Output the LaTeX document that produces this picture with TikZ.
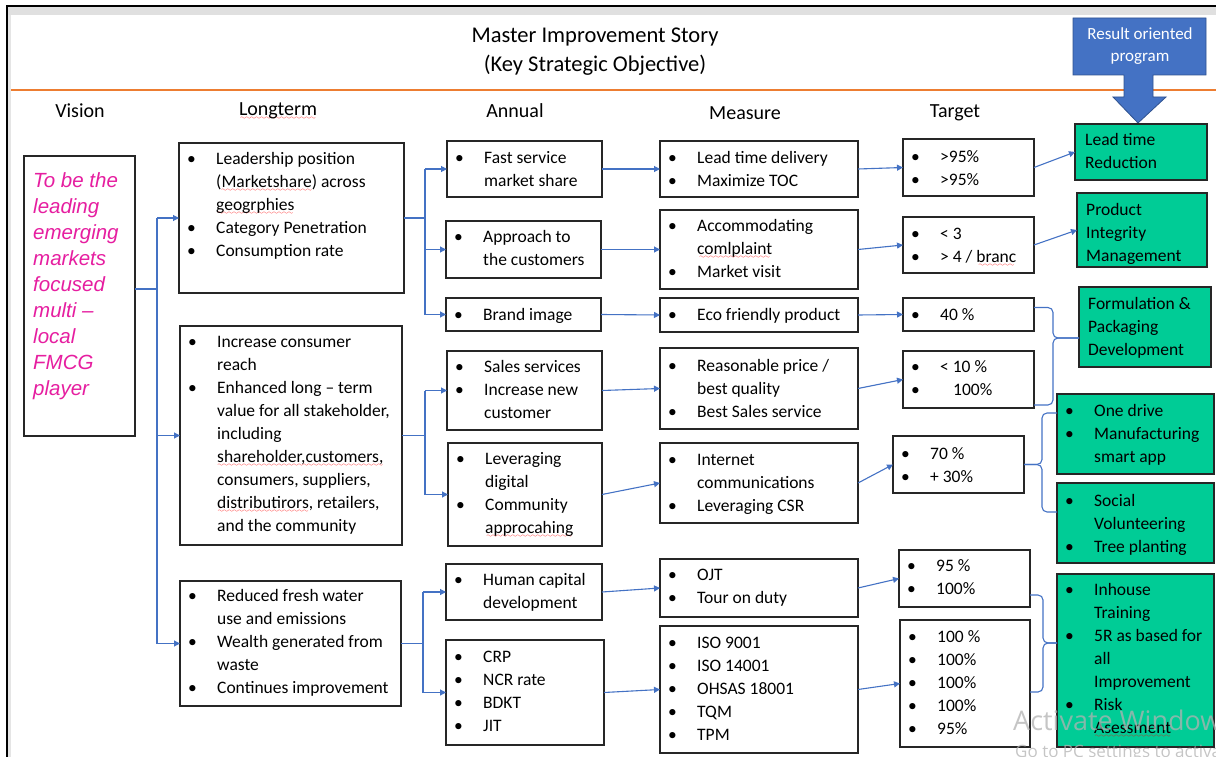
\documentclass[tikz,border=0pt]{standalone}
\usepackage{fontspec}
\setmainfont{Carlito}
\newfontfamily\visionfont{Liberation Sans}
\newfontfamily\wmfont{Open Sans}
\usetikzlibrary{arrows.meta,calc}
\definecolor{conblue}{RGB}{68,114,196}
\definecolor{darkblue}{RGB}{47,82,143}
\definecolor{gfill}{RGB}{0,204,150}
\definecolor{vmag}{RGB}{230,30,160}
\definecolor{orng}{RGB}{237,125,49}
\font\mywave=lasy6
\newsavebox\rwbox
\newcommand\rw[1]{\sbox\rwbox{#1}\makebox[0pt][l]{\textcolor{red}{\lower4pt\hbox to\wd\rwbox{\cleaders\hbox{\mywave\char58}\hfill}}}\usebox\rwbox}
\newcommand\bl{\rule{0pt}{13pt}\makebox[29pt][l]{\textbullet}}
\newcommand\cl{\rule{0pt}{13pt}\hspace*{29pt}}
\newcommand\st{\rule{0pt}{13pt}}
\newcommand\bx[6][box]{\node[#1,minimum width={#5-#3},minimum height={#6-#4}] (#2) at ({(#3+#5)/2},{(#4+#6)/2}) {};}
\newcommand\tx[4]{\node[txt] (#1) at ({#2+8},{#3-7.5}) {#4};}
\tikzset{
  box/.style={draw=black!85, line width=1.1pt, fill=white, inner sep=0pt, outer sep=0pt, rectangle},
  gbox/.style={box, fill=gfill},
  txt/.style={anchor=north west, inner sep=0pt, align=left, font=\fontsize{17.5}{23}\selectfont},
  hdr/.style={font=\fontsize{20}{24}\selectfont, inner sep=0pt},
  line/.style={draw=conblue, line width=1.1pt},
  conn/.style={line, -{Triangle[length=6pt,width=6pt]}},
}
\begin{document}
\begin{tikzpicture}[x=1pt,y=-1pt]
\useasboundingbox (0,0) rectangle (1216,757);
% frame
\fill[black!12] (7,6) rectangle (1216,15);
\fill[black!10] (8,15) rectangle (11,757);
\draw[black, line width=1.5pt] (1216,6) -- (7,6) -- (7,757);
\draw[orng, line width=2pt] (11,90) -- (1216,90);
% title
\node[font=\fontsize{22.5}{29}\selectfont, align=center, inner sep=0pt] (title) at (595,51.5) {Master Improvement Story\\(Key Strategic Objective)};
% result oriented program callout
\filldraw[fill=conblue, draw=darkblue, line width=0.8pt] (1073,18) -- (1206,18) -- (1206,75) -- (1153,75) -- (1153,97) -- (1166,97) -- (1138,123) -- (1113,97) -- (1124,97) -- (1124,75) -- (1073,75) -- cycle;
\node[font=\fontsize{17}{22}\selectfont, text=white, align=center, inner sep=0pt] (res) at (1140,46) {Result oriented\\program};
% headers
\node[hdr] (hV) at (80,111) {Vision};
\node[hdr] (hL) at (278,111) {\rw{Longterm}};
\node[hdr] (hA) at (515,111) {Annual};
\node[hdr] (hM) at (745,113) {Measure};
\node[hdr] (hT) at (955,113) {Target};
% vision
\bx{V}{24}{156}{135}{436}
\node[anchor=north west, inner sep=0pt, align=left, text=vmag, font=\visionfont\itshape\fontsize{20.5}{26}\selectfont] (Vt) at (33,172) {\rule{0pt}{15pt}To be the\\leading\\emerging\\markets\\focused\\multi –\\local\\FMCG\\player};
% longterm
\bx{L1}{179}{143}{404}{293}
\tx{L1t}{179}{159}{\bl Leadership position\\\cl(\rw{Marketshare}) across\\\cl\rw{geogrphies}\\\bl Category Penetration\\\bl Consumption rate}
\bx{L2}{180}{326}{402}{545}
\tx{L2t}{180}{342}{\bl Increase consumer\\\cl reach\\\bl Enhanced long – term\\\cl value for all stakeholder,\\\cl including\\\cl\rw{shareholder,customers,}\\\cl consumers, suppliers,\\\cl\rw{distributirors}, retailers,\\\cl and the community}
\bx{L3}{180}{581}{401}{706}
\tx{L3t}{180}{596}{\bl Reduced fresh water\\\cl use and emissions\\\bl Wealth generated from\\\cl waste\\\bl Continues improvement}
% annual
\bx{A1}{447}{141}{602}{197}
\tx{A1t}{447}{158}{\bl Fast service\\\cl market share}
\bx{A2}{446}{221}{601}{278}
\tx{A2t}{446}{237}{\bl Approach to\\\cl the customers}
\bx{A3}{446}{298}{601}{331}
\tx{A3t}{446}{315}{\bl Brand image}
\bx{A4}{447}{351}{602}{430}
\tx{A4t}{447}{367}{\bl Sales services\\\bl Increase new\\\cl customer}
\bx{A5}{448}{443}{602}{546}
\tx{A5t}{448}{459}{\bl Leveraging\\\cl digital\\\bl Community\\\cl\rw{approcahing}}
\bx{A6}{446}{564}{602}{620}
\tx{A6t}{446}{580}{\bl Human capital\\\cl development}
\bx{A7}{446}{640}{604}{745}
\tx{A7t}{446}{657}{\bl CRP\\\bl NCR rate\\\bl BDKT\\\bl JIT}
% measure
\bx{M1}{660}{141}{858}{197}
\tx{M1t}{660}{158}{\bl Lead time delivery\\\bl Maximize TOC}
\bx{M2}{660}{210}{858}{289}
\tx{M2t}{660}{226}{\bl Accommodating\\\cl\rw{comlplaint}\\\bl Market visit}
\bx{M3}{660}{298}{858}{332}
\tx{M3t}{660}{315}{\bl Eco friendly product}
\bx{M4}{660}{348}{858}{429}
\tx{M4t}{660}{366}{\bl Reasonable price /\\\cl best quality\\\bl Best Sales service}
\bx{M5}{660}{443}{858}{523}
\tx{M5t}{660}{460}{\bl Internet\\\cl communications\\\bl Leveraging CSR}
\bx{M6}{660}{559}{858}{617}
\tx{M6t}{660}{575}{\bl OJT\\\bl Tour on duty}
\bx{M7}{660}{626}{858}{753}
\tx{M7t}{660}{643}{\bl ISO 9001\\\bl ISO 14001\\\bl OHSAS 18001\\\bl TQM\\\bl TPM}
% target
\bx{T1}{903}{139}{1034}{196}
\tx{T1t}{903}{157}{\bl >95\%\\\bl >95\%}
\bx{T2}{903}{217}{1034}{273}
\tx{T2t}{903}{234}{\bl < 3\\\bl > 4 / \rw{branc}}
\bx{T3}{903}{298}{1034}{331}
\tx{T3t}{903}{315}{\bl 40 \%}
\bx{T4}{903}{351}{1034}{408}
\tx{T4t}{903}{367}{\bl < 10 \%\\\bl\hspace*{13pt}100\%}
\bx{T5}{893}{436}{1024}{493}
\tx{T5t}{893}{454}{\bl 70 \%\\\bl + 30\%}
\bx{T6}{899}{550}{1030}{607}
\tx{T6t}{899}{566}{\bl 95 \%\\\bl 100\%}
\bx{T7}{900}{620}{1030}{747}
\tx{T7t}{900}{637}{\bl 100 \%\\\bl 100\%\\\bl 100\%\\\bl 100\%\\\bl 95\%}
% green programs
\bx[gbox]{G1}{1075}{124}{1207}{180}
\node[txt] (G1t) at (1085,132.5) {\st Lead time\\Reduction};
\bx[gbox]{G2}{1077}{193}{1207}{267}
\node[txt] (G2t) at (1086,202.5) {\st Product\\Integrity\\Management};
\bx[gbox]{G3}{1079}{287}{1211}{367}
\node[txt] (G3t) at (1088,296.5) {\st Formulation \&\\Packaging\\Development};
\bx[gbox]{G4}{1057}{394}{1214}{474}
\tx{G4t}{1057}{411}{\bl One drive\\\bl Manufacturing\\\cl smart app}
\bx[gbox]{G5}{1057}{483}{1214}{563}
\tx{G5t}{1057}{501}{\bl Social\\\cl Volunteering\\\bl Tree planting}
\bx[gbox]{G6}{1057}{574}{1214}{747}
\tx{G6t}{1057}{590}{\bl Inhouse\\\cl Training\\\bl 5R as based for\\\cl all\\\cl Improvement\\\bl Risk\\\cl\rw{Asessment}}
% vision -> longterm
\coordinate (vj) at (157,289);
\draw[line] (V.east |- vj) -- (vj);
\draw[line] (vj |- L1.west) -- (vj |- L3.west);
\foreach \n in {L1,L2,L3} \draw[conn] (vj |- \n.west) -- (\n.west);
% longterm -> annual
\coordinate (j1) at (425,218);
\draw[line] (L1.east) -- (j1 |- L1.east);
\draw[line] (j1 |- A1.west) -- (j1 |- A3.west);
\foreach \n in {A1,A2,A3} \draw[conn] (j1 |- \n.west) -- (\n.west);
\coordinate (j2) at (425,435);
\draw[line] (L2.east) -- (j2 |- L2.east);
\draw[line] (j2 |- A4.west) -- (j2 |- A5.west);
\foreach \n in {A4,A5} \draw[conn] (j2 |- \n.west) -- (\n.west);
\coordinate (j3) at (423,643);
\draw[line] (L3.east) -- (j3 |- L3.east);
\draw[line] (j3 |- A6.west) -- (j3 |- A7.west);
\foreach \n in {A6,A7} \draw[conn] (j3 |- \n.west) -- (\n.west);
% annual -> measure -> target
\foreach \i in {1,...,7} {
  \draw[conn] (A\i.east) -- (M\i.west);
  \draw[conn] (M\i.east) -- (T\i.west);
}
\draw[conn] (T1.east) -- (G1.west);
\draw[conn] (T2.east) -- (G2.west);
% braces
\coordinate (b1) at (1053,338);
\coordinate (b1s) at ($(T3.east)+(0,-7)$);
\coordinate (b1e) at ($(T4.south east)+(0,-3)$);
\draw[line, rounded corners=5pt] (b1s) -- (b1 |- b1s) -- (b1) -- (G3.west |- b1);
\draw[line, rounded corners=5pt] (b1e) -- (b1 |- b1e) -- (b1) -- (G3.west |- b1);
\coordinate (b2) at (1042,464.5);
\coordinate (b2t) at (1042,413);
\coordinate (b2b) at (1042,512);
\draw[line, rounded corners=5pt] (T5.east) -- (b2) -- (b2t) -- (G4.west |- b2t);
\draw[line, rounded corners=5pt] (T5.east) -- (b2) -- (b2b) -- (G5.west |- b2b);
\coordinate (b3) at (1043,643);
\coordinate (b3t) at (1043,595);
\coordinate (b3b) at (1043,692);
\draw[line, rounded corners=5pt] (T6.east |- b3t) -- (b3t) -- (b3) -- (G6.west |- b3);
\draw[line, rounded corners=5pt] (T7.east |- b3b) -- (b3b) -- (b3) -- (G6.west |- b3);
% watermark
\node[anchor=west, inner sep=0pt, text=black!30, opacity=0.75, font=\wmfont\fontsize{27}{30}\selectfont] (wm1) at (1013,720) {Activate Windows};
\node[anchor=west, inner sep=0pt, text=black!30, opacity=0.75, font=\wmfont\fontsize{17}{20}\selectfont] (wm2) at (1015,753) {Go to PC settings to activate Windows.};
\end{tikzpicture}
\end{document}
